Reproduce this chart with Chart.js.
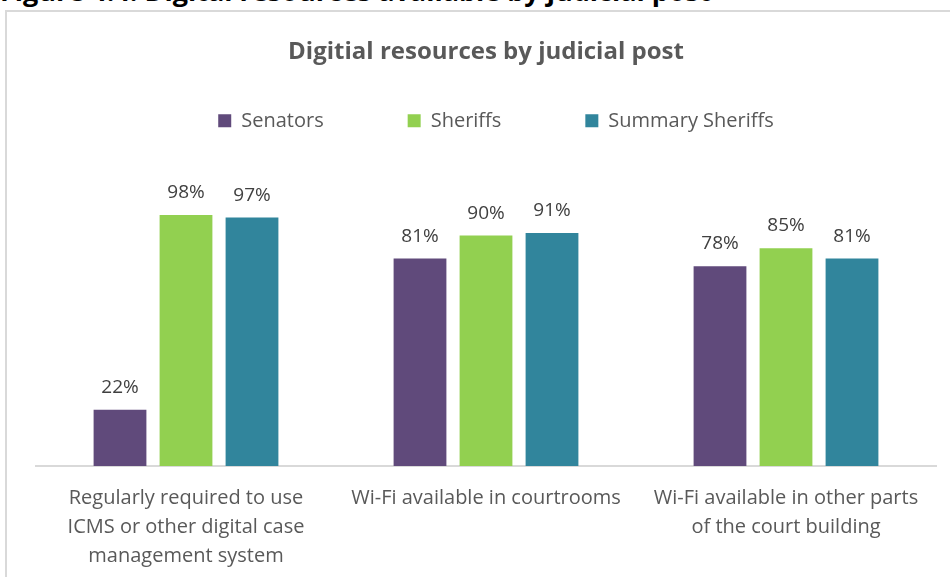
<!DOCTYPE html>
<html>
<head>
<meta charset="utf-8">
<script src="https://cdn.jsdelivr.net/npm/chart.js@4/dist/chart.umd.min.js"></script>
<style>
  html, body { margin: 0; padding: 0; background: #fff; overflow: hidden; width: 950px; height: 577px; }
  #caption { position: absolute; left: 0; top: -23px; font-family: 'Open Sans', sans-serif; font-weight: bold; font-size: 27px; line-height: 27px; color: #000; white-space: nowrap; }
  #box { position: absolute; left: 5px; top: 10px; width: 962px; height: 600px; border: 2px solid #d9d9d9; background: #fff; }
  canvas { display: block; }
</style>
</head>
<body>
<div id="caption">Figure 4.4: Digital resources available by judicial post</div>
<div id="box"><canvas id="c" width="962" height="600"></canvas></div>
<script>
const chartTitle = "Digitial resources by judicial post";
const categories = [
  ["Regularly required to use", "ICMS or other digital case", "management system"],
  "Wi-Fi available in courtrooms",
  ["Wi-Fi available in other parts", "of the court building"]
];
const seriesNames = ["Senators", "Sheriffs", "Summary Sheriffs"];
const senators = [22, 81, 78];
const sheriffs = [98, 90, 85];
const summarySheriffs = [97, 91, 81];
const seriesColors = ["#604A7B", "#92D050", "#31859C"];

const FONT = "'Open Sans', Lato, sans-serif";

const valueLabels = {
  id: "valueLabels",
  afterDatasetsDraw(chart) {
    const ctx = chart.ctx;
    ctx.save();
    ctx.font = "19px " + FONT;
    ctx.fillStyle = "#404040";
    ctx.textAlign = "center";
    ctx.textBaseline = "alphabetic";
    chart.data.datasets.forEach((ds, i) => {
      const meta = chart.getDatasetMeta(i);
      meta.data.forEach((bar, j) => {
        ctx.fillText(ds.data[j] + "%", bar.x, bar.y - 17);
      });
    });
    ctx.restore();
  }
};

const legendShift = {
  id: "legendShift",
  afterLayout(chart) {
    if (chart.legend) {
      chart.legend.left += 10;
      chart.legend.right += 10;
    }
  }
};

new Chart(document.getElementById("c"), {
  type: "bar",
  data: {
    labels: categories,
    datasets: [
      { label: seriesNames[0], data: senators, backgroundColor: seriesColors[0] },
      { label: seriesNames[1], data: sheriffs, backgroundColor: seriesColors[1] },
      { label: seriesNames[2], data: summarySheriffs, backgroundColor: seriesColors[2] }
    ]
  },
  options: {
    responsive: false,
    animation: false,
    events: [],
    layout: { padding: { left: 29, right: 33, top: 0, bottom: 23 } },
    datasets: { bar: { categoryPercentage: 0.66, barPercentage: 0.8 } },
    plugins: {
      title: {
        display: true,
        text: chartTitle,
        color: "#595959",
        font: { family: FONT, size: 24, weight: "bold" },
        padding: { top: 26, bottom: -40 }
      },
      legend: {
        display: true,
        position: "top",
        labels: {
          boxWidth: 13,
          boxHeight: 13,
          padding: 84,
          color: "#595959",
          font: { family: FONT, size: 20 }
        }
      },
      tooltip: { enabled: false }
    },
    scales: {
      x: {
        grid: { display: false, drawTicks: false },
        border: { display: true, color: "#d9d9d9", width: 2 },
        ticks: {
          color: "#595959",
          font: { family: FONT, size: 20, lineHeight: 1.45 },
          padding: 18,
          maxRotation: 0,
          autoSkip: false
        }
      },
      y: {
        display: false,
        min: 0,
        max: 127
      }
    }
  },
  plugins: [valueLabels, legendShift]
});
</script>
</body>
</html>
